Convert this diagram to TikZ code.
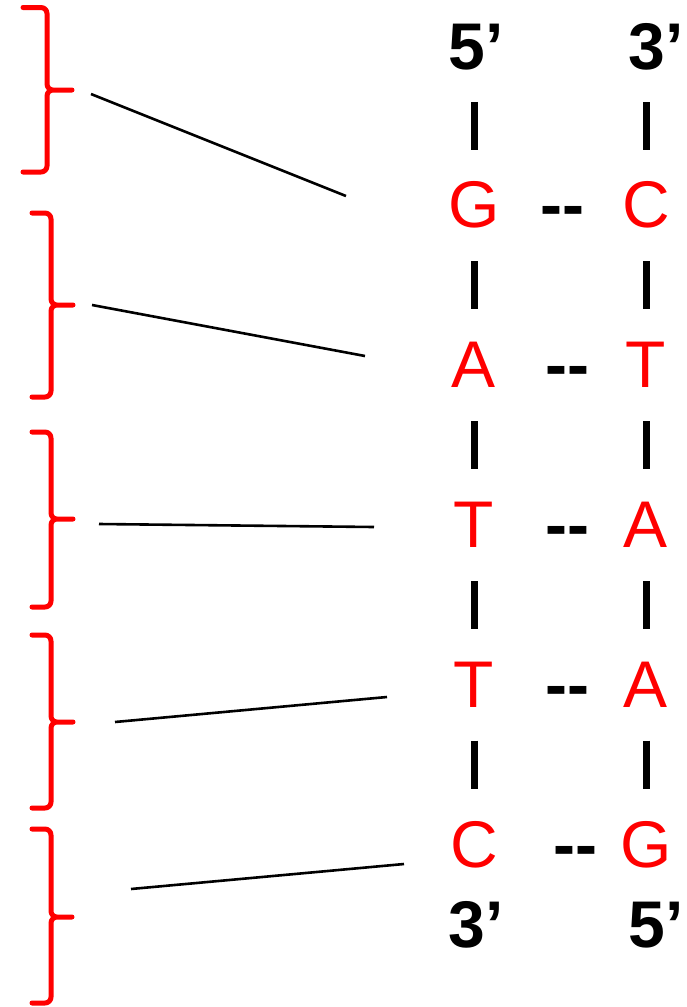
\documentclass[tikz,border=0pt]{standalone}
\usepackage{fontspec}
\setmainfont{Liberation Sans}
\usetikzlibrary{positioning,calc}

\begin{document}
\begin{tikzpicture}[x=1pt,y=-1pt,node distance=160pt,on grid,
		base/.style={text=red,inner sep=0pt,font=\fontsize{66}{70}\selectfont},
		prime/.style={inner sep=0pt,font=\fontsize{66}{70}\selectfont\bfseries},
		bond/.style={inner sep=0pt,anchor=base,font=\fontsize{66}{70}\selectfont\bfseries},
		strand/.style={line width=7pt},
		brace/.style={draw=red,line width=5pt,line cap=round,line join=round},
		pointer/.style={line width=2.6pt}]
		\useasboundingbox (0,0) rectangle (686,1007);

		% ends of the two strands
		\node[prime]  (top5)  at (476,47)   {5’};
		\node[prime]  (top3)  at (656,47)   {3’};
		\node[prime]  (bot3)  at (476,925)  {3’};
		\node[prime]  (bot5)  at (656,925)  {5’};

		% left strand
		\node[base]   (l1)    at (474,205)      {G};
		\node[base]   (l2)    [below=of l1]     {A};
		\node[base]   (l3)    [below=of l2]     {T};
		\node[base]   (l4)    [below=of l3]     {T};
		\node[base]   (l5)    [below=of l4]     {C};

		% right strand
		\node[base]   (r1)    [right=172pt of l1]  {C};
		\node[base]   (r2)    [right=172pt of l2]  {T};
		\node[base]   (r3)    [right=172pt of l3]  {A};
		\node[base]   (r4)    [right=172pt of l4]  {A};
		\node[base]   (r5)    [right=172pt of l5]  {G};

		% base pairs
		\foreach \i/\dx in {1/2,2/7,3/7,4/7,5/15}
			\node[bond] (b\i) at ($(l\i.base)!.5!(r\i.base)+(\dx,0)$) {-{}-};

		% backbone
		\foreach \u/\v in {top5/l1,l1/l2,l2/l3,l3/l4,l4/l5,top3/r1,r1/r2,r2/r3,r3/r4,r4/r5}
			\draw[strand] ($(\v |- \u.south)!.5!(\v.north)$) ++(0,-24) -- ++(0,48);

		% braces
		\foreach \i/\ya/\yb/\yt/\xl/\xs/\xt in {1/7.5/172/90/23/47/72,2/213/397/305/32/51/73,
				3/432/607/519/32/51/73,4/635/808/722/32/51/73,5/829/1003/917/32/51/72}{
			\coordinate (tip\i) at (\xt,\yt);
			\draw[brace] (\xl,\ya) -- (\xs-6,\ya) to[out=0,in=90] (\xs,\ya+6) -- (\xs,\yt-6)
				to[out=-90,in=180] (\xs+6,\yt) -- (tip\i)
				(tip\i) -- (\xs+6,\yt) to[out=180,in=90] (\xs,\yt+6) -- (\xs,\yb-6)
				to[out=-90,in=0] (\xs-6,\yb) -- (\xl,\yb);
		}

		% pointers from the braces
		\coordinate (s1) at (91,94);   \coordinate (e1) at (346,196);
		\coordinate (s2) at (92,305);  \coordinate (e2) at (365,356);
		\coordinate (s3) at (99,524);  \coordinate (e3) at (374,527);
		\coordinate (s4) at (115,722); \coordinate (e4) at (387,697);
		\coordinate (s5) at (131,889); \coordinate (e5) at (404,864);
		\foreach \i in {1,...,5}
			\draw[pointer] (s\i) -- (e\i);
\end{tikzpicture}
\end{document}
